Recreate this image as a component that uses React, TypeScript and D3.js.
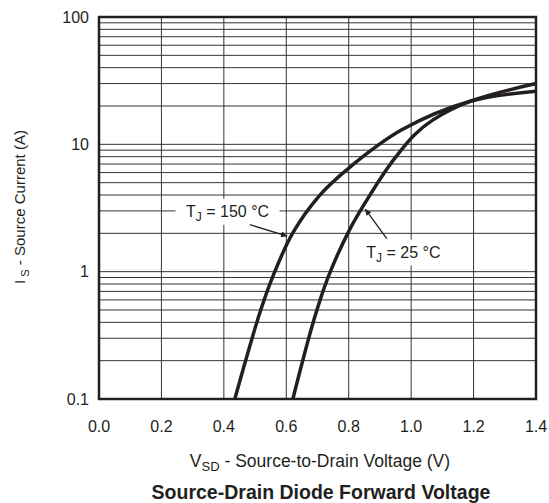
import React from "react";
import * as d3 from "d3";

// Tj = 150 °C curve (V, A)
const v150 = [0.435, 0.515, 0.557, 0.62, 0.707, 0.803, 0.97, 1.19, 1.4];
const i150 = [0.1, 0.473, 0.918, 2.0, 3.98, 6.6, 13.0, 21.8, 26.1];

// Tj = 25 °C curve
const v25 = [0.621, 0.69, 0.735, 0.803, 0.855, 0.92, 0.963, 1.011, 1.069, 1.19, 1.4];
const i25 = [0.1, 0.43, 0.918, 2.14, 3.55, 6.3, 8.7, 11.9, 15.5, 21.8, 30.0];

const xTicks = [0, 0.2, 0.4, 0.6, 0.8, 1.0, 1.2, 1.4];
const yTicks = [0.1, 1, 10, 100];
const yTickLabels = ["0.1", "1", "10", "100"];

// annotations: label position, arrow tail, arrow tip (data units)
const notes = [
  { temp: "150", lx: 0.412, ly: 2.7, tail: [0.483, 2.34], tip: [0.603, 1.9] },
  { temp: "25", lx: 0.975, ly: 1.29, tail: [0.922, 1.82], tip: [0.853, 3.1] },
];

const W = 549;
const H = 503;
const font = "'Liberation Sans', Arial, sans-serif";

export default function App() {
  const x = d3.scaleLinear().domain([0, 1.4]).range([99, 536]);
  const y = d3.scaleLog().domain([0.1, 100]).range([399, 17]);

  const minor: number[] = [];
  [0.1, 1, 10].forEach((d) => {
    for (let k = 2; k <= 9; k++) minor.push(d * k);
  });

  const line = d3
    .line<[number, number]>()
    .x((d) => x(d[0]))
    .y((d) => y(d[1]))
    .curve(d3.curveCatmullRom.alpha(0.5));

  const c150 = v150.map((v, i) => [v, i150[i]] as [number, number]);
  const c25 = v25.map((v, i) => [v, i25[i]] as [number, number]);

  const ink = "#231f20";

  return (
    <svg
      width={W}
      height={H}
      style={{ position: "absolute", left: 0, top: 0, background: "#fff" }}
      fontFamily={font}
    >
      <defs>
        <marker id="ah" viewBox="0 0 10 10" refX="10" refY="5" markerWidth="11" markerHeight="6" orient="auto" markerUnits="userSpaceOnUse">
          <path d="M0,0 L10,5 L0,10 z" fill={ink} />
        </marker>
      </defs>

      {/* grid */}
      <g stroke="#333" strokeWidth={1}>
        {minor.map((d) => (
          <line key={"m" + d} x1={x(0)} x2={x(1.4)} y1={y(d)} y2={y(d)} />
        ))}
        {yTicks.map((d) => (
          <line key={"y" + d} x1={x(0)} x2={x(1.4)} y1={y(d)} y2={y(d)} />
        ))}
        {xTicks.map((d) => (
          <line key={"x" + d} x1={x(d)} x2={x(d)} y1={y(0.1)} y2={y(100)} />
        ))}
      </g>

      {/* label backgrounds */}
      {notes.map((n) => (
        <rect key={"bg" + n.temp} x={x(n.lx) - 52} y={y(n.ly) - 18} width={104} height={26} fill="#fff" />
      ))}

      {/* frame */}
      <rect x={x(0)} y={y(100)} width={x(1.4) - x(0)} height={y(0.1) - y(100)} fill="none" stroke={ink} strokeWidth={2.5} />

      {/* curves */}
      <path d={line(c150) || ""} fill="none" stroke={ink} strokeWidth={3.5} />
      <path d={line(c25) || ""} fill="none" stroke={ink} strokeWidth={3.5} />

      {/* annotations */}
      {notes.map((n) => (
        <g key={n.temp}>
          <line
            x1={x(n.tail[0])}
            y1={y(n.tail[1])}
            x2={x(n.tip[0])}
            y2={y(n.tip[1])}
            stroke={ink}
            strokeWidth={1.3}
            markerEnd="url(#ah)"
          />
          <text x={x(n.lx)} y={y(n.ly)} textAnchor="middle" fontSize={16} fill={ink}>
            T<tspan fontSize={12} dy={4}>J</tspan>
            <tspan dy={-4}>{` = ${n.temp} °C`}</tspan>
          </text>
        </g>
      ))}

      {/* y tick labels */}
      {yTicks.map((d, i) => (
        <text key={"yl" + d} x={89} y={y(d)} dy="0.35em" textAnchor="end" fontSize={16} fill={ink}>
          {yTickLabels[i]}
        </text>
      ))}

      {/* x tick labels */}
      {xTicks.map((d) => (
        <text key={"xl" + d} x={x(d)} y={426} dy="0.35em" textAnchor="middle" fontSize={16} fill={ink}>
          {d.toFixed(1)}
        </text>
      ))}

      {/* axis titles */}
      <text x={320} y={467} textAnchor="middle" fontSize={17.5} fill={ink}>
        V<tspan fontSize={13} dy={4}>SD</tspan>
        <tspan dy={-4}> - Source-to-Drain Voltage (V)</tspan>
      </text>
      <text transform={`translate(25,${207}) rotate(-90)`} textAnchor="middle" fontSize={15} fill={ink}>
        I<tspan fontSize={11} dy={4}> S</tspan>
        <tspan dy={-4}> - Source Current (A)</tspan>
      </text>

      <text x={321} y={499} textAnchor="middle" fontSize={19.5} fontWeight="bold" fill={ink}>
        Source-Drain Diode Forward Voltage
      </text>
    </svg>
  );
}
